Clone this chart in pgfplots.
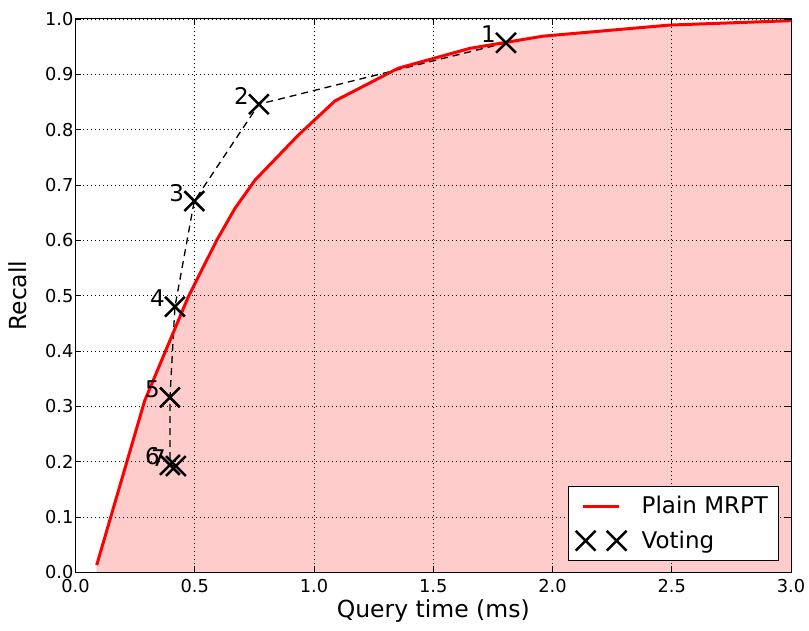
\documentclass[border=0pt]{standalone}
\usepackage{fontspec}
\setmainfont{DejaVu Sans}
\usepackage{pgfplots}
\pgfplotsset{compat=1.18}
\definecolor{fillred}{RGB}{255,204,204}
\pgfplotsset{
  lineleg/.style={legend image code/.code={
    \path[draw=none, fill=none] (-7pt,-10pt) rectangle (44pt,10pt);
    \draw[##1] (0pt,0pt) -- (36pt,0pt);}},
  crossleg/.style={legend image code/.code={
    \path[draw=none, fill=none] (-7pt,-10pt) rectangle (44pt,10pt);
    \begin{scope}[overlay]\draw[mark repeat=1,mark phase=1,##1] plot coordinates {(3pt,0pt) (34pt,0pt)};\end{scope}}},
}
\begin{document}
\begin{tikzpicture}
\begin{axis}[
  scale only axis,
  width=715.5pt, height=553.3pt,
  xmin=0, xmax=3, ymin=0, ymax=1,
  xtick={0,0.5,1,1.5,2,2.5,3},
  ytick={0,0.1,0.2,0.3,0.4,0.5,0.6,0.7,0.8,0.9,1},
  /pgf/number format/assume math mode=true,
  /pgf/number format/.cd, fixed, fixed zerofill, precision=1, /pgfplots/.cd,
  tick label style={font=\fontsize{17.8}{20}\selectfont},
  label style={font=\fontsize{23.5}{27}\selectfont},
  xlabel={Query time (ms)},
  ylabel={Recall},
  xlabel style={at={(axis description cs:0.5,-0.0808)}, anchor=base},
  ylabel style={at={(axis description cs:-0.0678,0.5)}, anchor=base},
  tick align=inside, tick pos=both,
  major tick length=6pt,
  every tick/.style={black, line width=0.8pt},
  axis line style={black, line width=1pt},
  grid=major,
  major grid style={black, line width=0.8pt, dash pattern=on 1pt off 3pt},
  axis on top,
  xticklabel style={yshift=-3.5pt},
  yticklabel style={xshift=1.5pt},
  legend style={at={(0.983,0.021)}, anchor=south east, draw=black, line width=1pt,
    font=\fontsize{23}{27}\selectfont, fill=white, inner xsep=7.3pt, inner ysep=7pt,
    row sep=9.3pt, column sep=12pt,
    nodes={inner sep=3pt, text height=17pt, text depth=2pt}},
  legend cell align=left,
]
\addplot[fill=fillred, draw=none, forget plot] coordinates {
(0.089,0.013) (0.29,0.31) (0.473,0.498) (0.592,0.600) (0.669,0.658) (0.753,0.709)
(0.934,0.790) (1.088,0.852) (1.353,0.911) (1.654,0.947) (1.961,0.969) (2.49,0.989) (3.0,0.997)
} \closedcycle;
\addplot[black, line width=1.3pt, dash pattern=on 7pt off 5pt, forget plot] coordinates {
(1.805,0.957) (0.769,0.846) (0.498,0.671) (0.417,0.480) (0.396,0.316) (0.396,0.194) (0.421,0.192)
};
\addplot[red, line width=3pt, line join=round, lineleg] coordinates {
(0.089,0.013) (0.29,0.31) (0.473,0.498) (0.592,0.600) (0.669,0.658) (0.753,0.709)
(0.934,0.790) (1.088,0.852) (1.353,0.911) (1.654,0.947) (1.961,0.969) (2.49,0.989) (3.0,0.997)
};
\addlegendentry{Plain MRPT}
\addplot[only marks, mark=x, mark size=14pt, black, mark options={line width=2.5pt},
  nodes near coords, point meta=explicit symbolic,
  every node near coord/.style={anchor=base east, xshift=-9pt, yshift=0pt, black,
    font=\fontsize{23}{27}\selectfont, inner sep=0pt},
  crossleg
] table[meta=lab] {
x y lab
1.805 0.957 1
0.769 0.846 2
0.498 0.671 3
0.417 0.480 4
0.396 0.316 5
0.396 0.194 6
0.421 0.192 7
};
\addlegendentry{Voting}
\end{axis}
\pgfresetboundingbox
\path ([shift={(-75.5pt,-57.7pt)}]current axis.south west) rectangle ([shift={(18pt,19pt)}]current axis.north east);
\end{tikzpicture}
\end{document}
